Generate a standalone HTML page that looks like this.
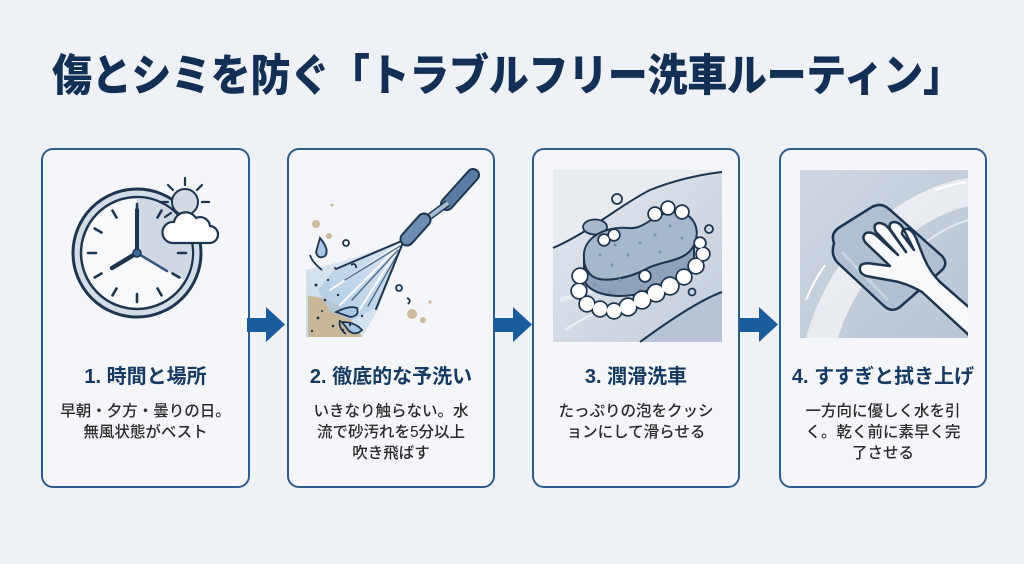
<!DOCTYPE html>
<html lang="ja">
<head>
<meta charset="utf-8">
<style>
  html,body{margin:0;padding:0;}
  body{width:1024px;height:564px;background:#eef1f5;position:relative;overflow:hidden;
       font-family:"Liberation Sans","Noto Sans CJK JP",sans-serif;}
  .title{position:absolute;left:52px;top:52px;height:40px;line-height:40px;font-size:40px;font-weight:900;
         color:#132f55;letter-spacing:-0.3px;white-space:nowrap;transform:scale(1,1.1);transform-origin:left center;
         font-family:"Noto Sans CJK JP",sans-serif;}
  .card{position:absolute;top:148px;height:340px;box-sizing:border-box;border:2px solid #2d5d8d;border-radius:12px;background:#f4f6f9;}
  .h{position:absolute;top:364px;height:26px;line-height:26px;text-align:center;font-size:20px;font-weight:700;color:#173a63;white-space:nowrap;}
  .d{position:absolute;top:401px;line-height:21px;text-align:center;font-size:15.5px;font-weight:500;color:#2a2a2a;white-space:nowrap;}
  svg{position:absolute;left:0;top:0;}
</style>
</head>
<body>
<div class="title">傷とシミを防ぐ「トラブルフリー洗車ルーティン」</div>

<div class="card" style="left:41px;width:209px;"></div>
<div class="card" style="left:287px;width:208px;"></div>
<div class="card" style="left:532px;width:208px;"></div>
<div class="card" style="left:779px;width:208px;"></div>

<svg width="1024" height="564" viewBox="0 0 1024 564">
  <defs>
    <linearGradient id="spray" x1="1" y1="0" x2="0" y2="1">
      <stop offset="0" stop-color="#d6e4f1"/>
      <stop offset="1" stop-color="#a9c4de"/>
    </linearGradient>
    <linearGradient id="bg3" x1="0" y1="0" x2="1" y2="1">
      <stop offset="0" stop-color="#e3e8ef"/>
      <stop offset="1" stop-color="#c3cddb"/>
    </linearGradient>
    <linearGradient id="bg4" x1="0" y1="0" x2="1" y2="1">
      <stop offset="0" stop-color="#cfd7e2"/>
      <stop offset="1" stop-color="#b9c5d4"/>
    </linearGradient>
    <clipPath id="c4"><rect x="800" y="170" width="168" height="168"/></clipPath>
  </defs>

  <!-- arrows -->
  <g fill="#1b5c9d">
    <path d="M247,318 H266 V307 L285,324.5 L266,342 V332 H247 Z"/>
    <path d="M494,318 H513 V307 L532,324.5 L513,342 V332 H494 Z"/>
    <path d="M740,318 H759 V307 L778,324.5 L759,342 V332 H740 Z"/>
  </g>

  <!-- Card 1: clock -->
  <g>
    <circle cx="137" cy="253" r="64" fill="#d3dde8" stroke="#1e3550" stroke-width="3"/>
    <circle cx="137" cy="253" r="56" fill="#f7f9fb" stroke="#1e3550" stroke-width="2.5"/>
    <path d="M137,253 L137,198 A55,55 0 0 1 184.6,280.5 Z" fill="#cfd8e3"/>
    <g stroke="#1e3550" stroke-width="2.6" stroke-linecap="round">
      <line x1="137" y1="204" x2="137" y2="212"/>
      <line x1="137" y1="294" x2="137" y2="302"/>
      <line x1="88" y1="253" x2="96" y2="253"/>
      <line x1="178" y1="253" x2="186" y2="253"/>
      <line x1="161.5" y1="210.6" x2="157.5" y2="217.5"/>
      <line x1="179.4" y1="228.5" x2="172.5" y2="232.5"/>
      <line x1="179.4" y1="277.5" x2="172.5" y2="273.5"/>
      <line x1="161.5" y1="295.4" x2="157.5" y2="288.5"/>
      <line x1="112.5" y1="295.4" x2="116.5" y2="288.5"/>
      <line x1="94.6" y1="277.5" x2="101.5" y2="273.5"/>
      <line x1="94.6" y1="228.5" x2="101.5" y2="232.5"/>
      <line x1="112.5" y1="210.6" x2="116.5" y2="217.5"/>
    </g>
    <line x1="137" y1="253" x2="167" y2="271" stroke="#34577f" stroke-width="2.5" stroke-linecap="round"/>
    <line x1="137" y1="253" x2="137" y2="210" stroke="#1e3550" stroke-width="4" stroke-linecap="round"/>
    <line x1="137" y1="253" x2="112" y2="268" stroke="#1e3550" stroke-width="4.5" stroke-linecap="round"/>
    <circle cx="137" cy="253" r="4" fill="#3b6a9a" stroke="#1e3550" stroke-width="1.5"/>
    <!-- sun -->
    <g stroke="#1e3550" stroke-width="2.2" stroke-linecap="round">
      <line x1="185" y1="185" x2="185" y2="178"/>
      <line x1="197" y1="190" x2="202" y2="185"/>
      <line x1="202" y1="202" x2="209" y2="202"/>
      <line x1="173" y1="190" x2="168" y2="185"/>
      <line x1="168" y1="202" x2="161" y2="202"/>
      <line x1="171" y1="213" x2="165" y2="217"/>
    </g>
    <circle cx="185" cy="202" r="13" fill="#d3dae4" stroke="#1e3550" stroke-width="2"/>
    <path d="M172,243 H209 A8.5,8.5 0 0 0 210,226 A10,10 0 0 0 196,218 A12,12 0 0 0 174,222 A10.5,10.5 0 0 0 172,243 Z" fill="#ffffff" stroke="#1e3550" stroke-width="2.2"/>
  </g>

  <!-- Card 2: pressure washer -->
  <g>
    <path d="M306,270 L340,262 L404,240 L378,310 L362,337 L306,337 Z" fill="url(#spray)" opacity="0.55"/>
    <path d="M308,296 Q330,298 340,308 Q355,322 362,337 L308,337 Z" fill="#c9b898"/>
    <path d="M404,240 L336,268 L318,290 L330,312 L352,320 L376,308 Z" fill="url(#spray)" opacity="0.8"/>
    <g stroke="#ffffff" stroke-width="2" stroke-linecap="round" opacity="0.9">
      <line x1="402" y1="243" x2="330" y2="290"/>
      <line x1="402" y1="243" x2="340" y2="305"/>
      <line x1="402" y1="243" x2="358" y2="312"/>
    </g>
    <g stroke="#2d4f78" stroke-width="1.4" stroke-linecap="round" opacity="0.8">
      <line x1="400" y1="246" x2="345" y2="280"/>
      <line x1="398" y1="250" x2="352" y2="300"/>
      <line x1="400" y1="250" x2="368" y2="306"/>
    </g>
    <line x1="404" y1="240" x2="336" y2="269" stroke="#1e3550" stroke-width="2" stroke-linecap="round"/>
    <line x1="404" y1="240" x2="376" y2="309" stroke="#1e3550" stroke-width="2" stroke-linecap="round"/>
    <!-- pipe -->
    <line x1="473" y1="175" x2="447" y2="204" stroke="#1e3550" stroke-width="14" stroke-linecap="round"/>
    <line x1="473" y1="175" x2="447" y2="204" stroke="#5a7ba3" stroke-width="10" stroke-linecap="round"/>
    <line x1="448" y1="203" x2="421" y2="223" stroke="#1e3550" stroke-width="7"/>
    <line x1="448" y1="203" x2="421" y2="223" stroke="#a9bcd2" stroke-width="4"/>
    <line x1="424" y1="220" x2="407" y2="239" stroke="#1e3550" stroke-width="15" stroke-linecap="round"/>
    <line x1="424" y1="220" x2="407" y2="239" stroke="#6d8cb1" stroke-width="11" stroke-linecap="round"/>
    <!-- droplets -->
    <g fill="#a9c6e2" stroke="#1e3550" stroke-width="1.8">
      <path d="M320,238 Q330,250 325,256 Q318,260 316,252 Z"/>
      <path d="M336,312 Q350,305 357,308 Q360,316 350,317 Z"/>
      <path d="M342,322 Q355,322 362,330 Q356,336 349,331 Z"/>
      <circle cx="346" cy="243" r="3" fill="none"/>
      <circle cx="399" cy="288" r="3" fill="none"/>
      <path d="M351,265 Q356,262 356,268" fill="none"/>
      <path d="M407,298 Q412,300 408,304" fill="none"/>
      <path d="M322,270 Q312,262 310,255" fill="none"/>
      <path d="M340,320 Q338,328 346,334" fill="none"/>
    </g>
    <g fill="#c7b08e" opacity="0.85">
      <circle cx="316" cy="224" r="4"/>
      <circle cx="329" cy="236" r="3"/>
      <circle cx="412" cy="314" r="5"/>
      <circle cx="423" cy="320" r="3"/>
      <circle cx="332" cy="205" r="1.5"/>
      <circle cx="430" cy="302" r="1.6"/>
    </g>
    <g fill="#1e3550">
      <circle cx="316" cy="285" r="1.5"/><circle cx="325" cy="300" r="1.3"/><circle cx="318" cy="318" r="1.4"/>
      <circle cx="333" cy="326" r="1.3"/><circle cx="312" cy="331" r="1.2"/><circle cx="343" cy="330" r="1.3"/>
      <circle cx="328" cy="280" r="1.2"/><circle cx="338" cy="295" r="1.2"/><circle cx="350" cy="325" r="1.2"/>
      <circle cx="322" cy="311" r="1"/><circle cx="362" cy="316" r="1.2"/><circle cx="335" cy="268" r="1"/>
    </g>
  </g>

  <!-- Card 3: sponge -->
  <g>
    <rect x="553" y="170" width="169" height="172" fill="url(#bg3)"/>
    <path d="M553,248 C590,232 620,205 650,190 C680,178 705,174 722,172 L722,170 L553,170 Z" fill="#e8ecf1"/>
    <path d="M640,342 C670,320 700,300 722,292 L722,342 Z" fill="#b8c4d3"/>
    <path d="M560,300 C600,290 640,270 700,235" stroke="#eef2f6" stroke-width="5" fill="none" opacity="0.8"/>
    <path d="M565,330 C580,320 590,315 600,312" stroke="#eef2f6" stroke-width="2" fill="none"/>
    <path d="M553,248 C590,232 620,205 650,190 C680,178 705,174 722,172" stroke="#1e3550" stroke-width="2" fill="none"/>
    <path d="M640,342 C670,320 700,300 722,292" stroke="#1e3550" stroke-width="2" fill="none"/>
    <ellipse cx="595" cy="227" rx="12" ry="7.5" fill="#a9b8ca" stroke="#1e3550" stroke-width="1.8"/>
    <path d="M584,258 L584,280 C590,298 630,300 648,290 C664,282 686,284 694,267 L694,245 C686,262 664,260 648,268 C630,278 600,285 590,274 C586,270 584,264 584,258 Z" fill="#8fa2ba" stroke="#1e3550" stroke-width="2"/>
    <path d="M584,258 C582,238 605,226 628,228 C645,230 652,214 672,212 C692,210 702,228 694,245 C686,262 664,260 648,268 C630,278 600,285 590,274 C586,270 584,264 584,258 Z" fill="#a8b8cc" stroke="#1e3550" stroke-width="2"/>
    <g fill="#7f93ad">
      <circle cx="600" cy="255" r="1.6"/><circle cx="615" cy="245" r="1.6"/><circle cx="628" cy="255" r="1.6"/>
      <circle cx="640" cy="243" r="1.6"/><circle cx="655" cy="235" r="1.6"/><circle cx="670" cy="226" r="1.6"/>
      <circle cx="682" cy="238" r="1.6"/><circle cx="612" cy="265" r="1.6"/><circle cx="660" cy="252" r="1.6"/>
      <circle cx="595" cy="285" r="1.8"/><circle cx="610" cy="292" r="1.8"/><circle cx="640" cy="290" r="1.8"/>
      <circle cx="670" cy="280" r="1.8"/><circle cx="620" cy="280" r="1.6"/>
    </g>
    <!-- foam -->
    <g fill="none" stroke="#1e3550" stroke-width="3.5">
      <circle cx="580" cy="276" r="7"/><circle cx="579" cy="291" r="7"/><circle cx="587" cy="304" r="7"/>
      <circle cx="600" cy="309" r="7"/><circle cx="614" cy="311" r="7"/><circle cx="628" cy="307" r="8"/>
      <circle cx="642" cy="300" r="8"/><circle cx="656" cy="293" r="8"/><circle cx="670" cy="286" r="8"/>
      <circle cx="684" cy="277" r="7"/><circle cx="696" cy="266" r="7"/><circle cx="703" cy="254" r="6"/>
      <circle cx="700" cy="243" r="5"/>
      <circle cx="655" cy="214" r="6"/><circle cx="668" cy="208" r="6"/><circle cx="682" cy="212" r="6"/>
      <circle cx="604" cy="240" r="5"/><circle cx="614" cy="235" r="5"/>
      <circle cx="645" cy="276" r="5"/>
    </g>
    <g fill="#ffffff">
      <circle cx="580" cy="276" r="7"/><circle cx="579" cy="291" r="7"/><circle cx="587" cy="304" r="7"/>
      <circle cx="600" cy="309" r="7"/><circle cx="614" cy="311" r="7"/><circle cx="628" cy="307" r="8"/>
      <circle cx="642" cy="300" r="8"/><circle cx="656" cy="293" r="8"/><circle cx="670" cy="286" r="8"/>
      <circle cx="684" cy="277" r="7"/><circle cx="696" cy="266" r="7"/><circle cx="703" cy="254" r="6"/>
      <circle cx="700" cy="243" r="5"/>
      <circle cx="655" cy="214" r="6"/><circle cx="668" cy="208" r="6"/><circle cx="682" cy="212" r="6"/>
      <circle cx="604" cy="240" r="5"/><circle cx="614" cy="235" r="5"/>
      <circle cx="645" cy="276" r="5"/>
    </g>
    <g fill="none" stroke="#1e3550" stroke-width="1.8">
      <circle cx="617" cy="199" r="5"/>
      <circle cx="709" cy="229" r="4"/>
      <circle cx="692" cy="292" r="3.5"/>
    </g>
  </g>

  <!-- Card 4: hand wiping -->
  <g clip-path="url(#c4)">
    <rect x="800" y="170" width="168" height="168" fill="url(#bg4)"/>
    <path d="M968,178 C900,188 830,250 806,338 L838,338 C858,272 912,220 968,206 Z" fill="#eef1f5" opacity="0.85"/>
    <path d="M968,220 C930,232 900,260 880,300" stroke="#eef1f5" stroke-width="2" fill="none" opacity="0.8"/>
    <path d="M806,300 C812,285 818,275 825,265" stroke="#ffffff" stroke-width="2" fill="none"/>
    <path d="M935,190 C948,186 958,183 966,182" stroke="#ffffff" stroke-width="2" fill="none"/>
    <!-- cloth -->
    <path d="M834,243 Q830,233 840,227 L872,207 Q881,202 889,209 L942,256 Q949,264 941,271 L900,307 Q892,313 884,306 L839,264 Q830,256 834,243 Z" fill="#b1bfd0" stroke="#1e3550" stroke-width="2.5"/>
    <path d="M842,252 L888,300" stroke="#cad4e0" stroke-width="3" fill="none"/>
    <!-- hand -->
    <path d="M972,338 L922,292 Q905,282 888,280 L866,276 Q857,272 861,265 Q866,262 874,264 L890,266 L868,245 Q860,238 866,233 Q872,231 878,237 L898,255 L876,232 Q872,224 879,223 Q885,223 890,230 L906,252 L890,229 Q888,222 895,222 Q901,223 904,230 L914,250 L902,234 Q902,228 908,229 Q913,231 916,238 L924,258 Q930,272 940,282 L972,310 Z" fill="#f7f9fb" stroke="#1e3550" stroke-width="2.5" stroke-linejoin="round"/>
  </g>
</svg>

<div class="h" style="left:41px;width:209px;">1. 時間と場所</div>
<div class="d" style="left:41px;width:209px;">早朝・夕方・曇りの日。<br>無風状態がベスト</div>

<div class="h" style="left:287px;width:208px;">2. 徹底的な予洗い</div>
<div class="d" style="left:287px;width:208px;">いきなり触らない。水<br>流で砂汚れを5分以上<br>吹き飛ばす</div>

<div class="h" style="left:532px;width:208px;">3. 潤滑洗車</div>
<div class="d" style="left:532px;width:208px;">たっぷりの泡をクッシ<br>ョンにして滑らせる</div>

<div class="h" style="left:779px;width:208px;">4. すすぎと拭き上げ</div>
<div class="d" style="left:779px;width:208px;">一方向に優しく水を引<br>く。乾く前に素早く完<br>了させる</div>
</body>
</html>
